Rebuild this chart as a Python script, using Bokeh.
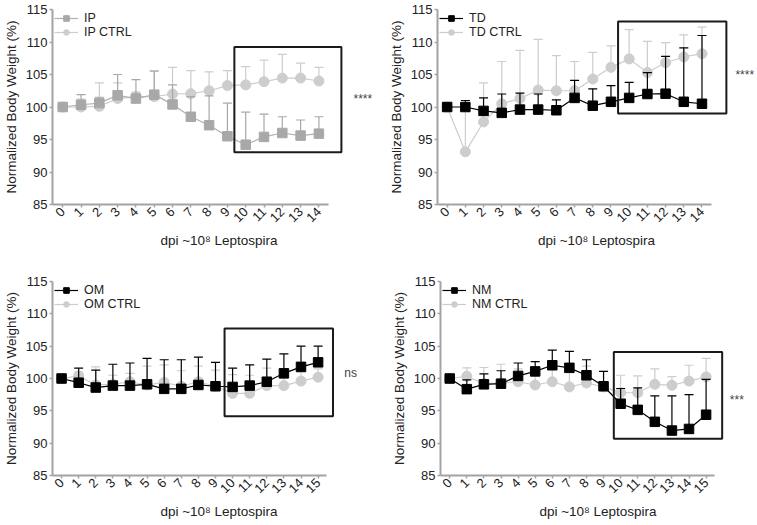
import math
from bokeh.plotting import figure
from bokeh.layouts import column, row
from bokeh.models import Range1d, FixedTicker, Legend, LegendItem
from bokeh.core.properties import value
from bokeh.embed import file_html
from bokeh.resources import INLINE

FONT = "Liberation Sans"

# ---------------- data ----------------
days14 = list(range(15))
days15 = list(range(16))
y_ticks = [85, 90, 95, 100, 105, 110, 115]

ip_mean = [100, 100.35, 100.6, 101.8, 101.3, 101.9, 100.4, 98.5, 97.2, 95.5, 94.2, 95.4, 96.0, 95.6, 95.9]
ip_sd = [0, 1.55, 0.9, 3.2, 2.9, 3.6, 3.0, 3.1, 4.5, 5.1, 5.0, 3.5, 2.5, 2.4, 2.6]
ip_ctrl_mean = [100, 100.0, 100.1, 101.3, 101.6, 101.6, 102.0, 102.05, 102.5, 103.3, 103.4, 103.9, 104.45, 104.45, 104.0]
ip_ctrl_sd = [0, 1.2, 3.6, 2.4, 0.7, 4.0, 4.1, 3.55, 2.9, 2.3, 2.8, 3.3, 3.65, 2.3, 2.1]

td_mean = [100, 100, 99.4, 99.1, 99.6, 99.6, 99.5, 101.4, 100.2, 100.8, 101.4, 102.0, 102.05, 100.8, 100.5]
td_sd = [0, 1.0, 2.0, 2.9, 2.55, 2.4, 1.6, 2.7, 2.6, 2.5, 2.4, 3.3, 5.75, 8.3, 10.5]
td_ctrl_mean = [100, 93.1, 97.7, 100.5, 101.3, 102.6, 102.5, 102.5, 104.3, 106.1, 107.4, 105.3, 106.8, 107.7, 108.2]
td_ctrl_sd = [0, 7.4, 6.0, 6.5, 7.4, 7.8, 5.4, 4.5, 4.1, 3.3, 4.5, 4.8, 3.1, 3.4, 4.1]

om_mean = [100, 99.35, 98.6, 98.9, 98.9, 99.1, 98.4, 98.4, 99.0, 98.8, 98.7, 98.9, 99.5, 100.8, 101.8, 102.5]
om_sd = [0, 2.25, 2.7, 3.3, 3.5, 4.0, 4.5, 4.5, 4.3, 3.7, 2.9, 3.2, 3.5, 3.0, 3.2, 2.5]
om_ctrl_mean = [100, 100.4, 99.0, 99.1, 99.5, 99.0, 99.4, 98.8, 99.5, 98.8, 97.7, 97.7, 98.9, 98.9, 99.6, 100.2]
om_ctrl_sd = [0, 0.6, 2.8, 1.4, 1.3, 2.9, 2.7, 2.4, 2.4, 2.5, 2.9, 2.8, 2.7, 1.1, 1.4, 1.3]

nm_mean = [100, 98.35, 99.1, 99.2, 100.4, 101.1, 102.05, 101.65, 100.5, 98.8, 96.1, 95.15, 93.3, 91.95, 92.2, 94.4]
nm_sd = [0, 1.45, 1.6, 2.0, 2.0, 1.5, 2.35, 2.55, 2.4, 2.3, 2.35, 3.4, 4.0, 5.35, 5.3, 5.45]
nm_ctrl_mean = [100, 100.35, 99.2, 99.3, 99.5, 99.0, 99.5, 98.7, 99.3, 98.7, 97.8, 97.8, 99.1, 98.95, 99.6, 100.25]
nm_ctrl_sd = [0, 1.3, 2.5, 2.9, 2.0, 2.5, 2.5, 2.8, 2.6, 2.4, 2.7, 2.6, 2.4, 1.35, 2.45, 2.85]

# highlighted window (left, right, bottom, top) and significance labels
ip_box = (9.38, 15.23, 93.04, 109.25)
td_box = (9.39, 15.34, 99.0, 113.15)
om_box = (9.53, 15.87, 94.15, 107.75)
nm_box = (9.6, 15.94, 90.7, 104.1)

AXIS_COLOR = "#a3a3a3"
TEXT_COLOR = "#222222"


def errorbars(p, days, mean, sd, color):
    top = [m + s for m, s in zip(mean, sd)]
    p.segment(x0=days, y0=mean, x1=days, y1=top, line_color=color, line_width=1.2)
    p.scatter(x=days, y=top, marker="dash", size=9, line_color=color, line_width=1.2)


def panel(days, mean, sd, label, color, line_color,
          c_mean, c_sd, c_label, c_color,
          box, sig, sig_x, sig_y,
          width, height, left_border, top_border, bottom_border, x_start, x_end):
    p = figure(width=width, height=height, output_backend="svg", toolbar_location=None,
               x_range=Range1d(x_start, x_end), y_range=Range1d(85, 115))
    p.min_border_left = left_border
    p.min_border_right = 0
    p.min_border_top = top_border
    p.min_border_bottom = bottom_border
    p.outline_line_color = None
    p.xgrid.visible = False
    p.ygrid.visible = False

    # control series
    errorbars(p, days, c_mean, c_sd, c_color)
    cl = p.line(days, c_mean, line_color=c_color, line_width=1.2)
    cs = p.scatter(days, c_mean, marker="circle", size=10, fill_color=c_color, line_color=c_color)
    # infected series
    errorbars(p, days, mean, sd, color)
    ml = p.line(days, mean, line_color=line_color, line_width=1.2)
    ms = p.scatter(days, mean, marker="square", size=9.5, fill_color=color, line_color=color)

    p.quad(left=[box[0]], right=[box[1]], bottom=[box[2]], top=[box[3]],
           fill_alpha=0, line_color="#1a1a1a", line_width=2)
    p.text(x=[sig_x], y=[sig_y], text=[sig], text_font=value(FONT), text_font_size="12px",
           text_color="#444444", text_align="center", text_baseline="middle")

    legend = Legend(items=[LegendItem(label=label, renderers=[ml, ms]),
                           LegendItem(label=c_label, renderers=[cl, cs])],
                    location="top_left")
    legend.margin = 0
    legend.padding = 2
    legend.spacing = 0
    legend.glyph_width = 24
    legend.glyph_height = 14
    legend.label_height = 14
    legend.label_standoff = 6
    legend.label_text_font = FONT
    legend.label_text_font_size = "12.5px"
    legend.label_text_color = TEXT_COLOR
    legend.background_fill_alpha = 0
    legend.border_line_alpha = 0
    p.add_layout(legend)

    for ax in (p.xaxis[0], p.yaxis[0]):
        ax.axis_line_color = AXIS_COLOR
        ax.axis_line_width = 2
        ax.major_tick_line_color = AXIS_COLOR
        ax.major_tick_line_width = 1.5
        ax.major_tick_out = 3
        ax.major_tick_in = 0
        ax.minor_tick_line_color = None
        ax.major_label_text_font = FONT
        ax.major_label_text_font_size = "13px"
        ax.major_label_text_color = TEXT_COLOR
        ax.major_label_standoff = 2
        ax.axis_label_text_font = FONT
        ax.axis_label_text_font_size = "13.5px"
        ax.axis_label_text_font_style = "normal"
        ax.axis_label_text_color = TEXT_COLOR
        ax.axis_label_standoff = 4

    p.xaxis.ticker = FixedTicker(ticks=days)
    p.xaxis.major_label_orientation = math.pi / 4
    p.xaxis.bounds = (x_start, days[-1] + 0.5)
    p.xaxis.axis_label = "dpi ~10\u2078 Leptospira"
    p.yaxis.ticker = FixedTicker(ticks=y_ticks)
    p.yaxis.axis_label = "Normalized Body Weight (%)"
    return p


p1 = panel(days14, ip_mean, ip_sd, "IP", "#a8a8a8", "#b0b0b0",
           ip_ctrl_mean, ip_ctrl_sd, "IP CTRL", "#cdcdcd",
           ip_box, "****", 16.4, 101.2,
           385, 270, 52, 9, 66, -0.56, 17.64)
p2 = panel(days14, td_mean, td_sd, "TD", "#000000", "#000000",
           td_ctrl_mean, td_ctrl_sd, "TD CTRL", "#cdcdcd",
           td_box, "****", 16.35, 104.85,
           370, 270, 52, 9, 66, -0.53, 16.94)
p3 = panel(days15, om_mean, om_sd, "OM", "#000000", "#000000",
           om_ctrl_mean, om_ctrl_sd, "OM CTRL", "#cdcdcd",
           om_box, "ns", 16.9, 100.9,
           385, 254, 52, 11, 49, -0.53, 18.94)
p4 = panel(days15, nm_mean, nm_sd, "NM", "#000000", "#000000",
           nm_ctrl_mean, nm_ctrl_sd, "NM CTRL", "#cdcdcd",
           nm_box, "***", 16.8, 96.6,
           370, 254, 55, 11, 49, -0.54, 17.89)

layout = column(row(p1, p2), row(p3, p4))
open("out.html", "w").write(file_html(layout, INLINE))
